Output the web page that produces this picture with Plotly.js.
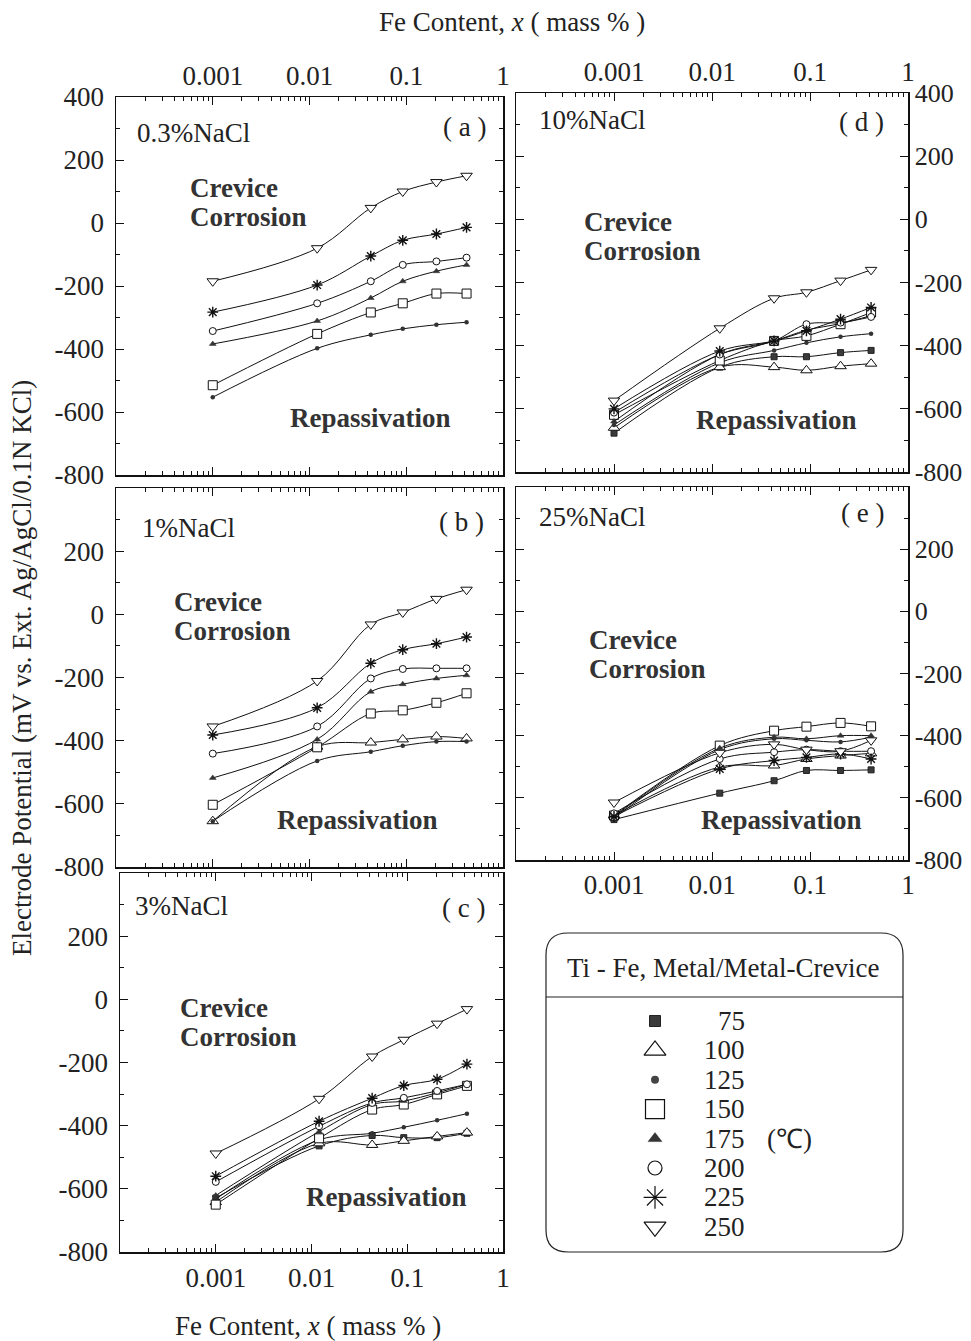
<!DOCTYPE html>
<html><head><meta charset="utf-8">
<script src="https://cdn.plot.ly/plotly-3.0.1.min.js"></script>
<style>body{margin:0;background:#fff}#chart{width:971px;height:1341px}</style>
</head><body><div id="chart"></div>
<script>
// ---------------- DATA ----------------
const feContent = [0.001, 0.012, 0.043, 0.092, 0.205, 0.42];   // Fe content, mass %
const temperatures = [75, 100, 125, 150, 175, 200, 225, 250];   // deg C
const xTickVals = [0.001, 0.01, 0.1, 1];
const xTickText = ['0.001', '0.01', '0.1', '1'];
const yTickVals = [-800, -600, -400, -200, 0, 200, 400];

// (a) 0.3% NaCl
const a250 = [-185, -80, 48, 100, 130, 150];
const a225 = [-283, -197, -105, -55, -35, -14];
const a200 = [-343, -255, -185, -133, -122, -110];
const a175 = [-384, -311, -238, -185, -153, -133];
const a150 = [-515, -352, -284, -255, -224, -224];
const a125 = [-553, -398, -355, -336, -323, -315];
// (b) 1% NaCl
const b250 = [-355, -211, -32, 6, 49, 78];
const b225 = [-382, -296, -155, -112, -93, -72];
const b200 = [-441, -355, -203, -173, -171, -171];
const b175 = [-518, -396, -245, -221, -203, -193];
const b150 = [-603, -421, -314, -304, -280, -250];
const b100 = [-655, -419, -406, -396, -387, -393];
const b125 = [-655, -464, -435, -416, -403, -403];
// (c) 3% NaCl
const c250 = [-488, -315, -181, -128, -77, -31];
const c225 = [-560, -386, -313, -273, -253, -205];
const c200 = [-578, -402, -328, -312, -290, -269];
const c175 = [-621, -419, -333, -322, -296, -269];
const c150 = [-650, -440, -349, -333, -301, -274];
const c125 = [-632, -445, -424, -405, -383, -362];
const c75  = [-629, -464, -431, -438, -438, -424];
const c100 = [-642, -456, -461, -448, -434, -422];
// (d) 10% NaCl
const d250 = [-574, -345, -250, -231, -194, -160];
const d225 = [-600, -417, -385, -353, -316, -279];
const d200 = [-612, -428, -385, -332, -327, -309];
const d150 = [-619, -447, -385, -369, -332, -295];
const d175 = [-640, -428, -385, -351, -330, -305];
const d125 = [-651, -454, -415, -391, -372, -362];
const d75  = [-677, -468, -435, -435, -422, -415];
const d100 = [-660, -468, -468, -478, -465, -457];
// (e) 25% NaCl
const e250 = [-615, -455, -428, -445, -450, -415];
const e175 = [-660, -440, -405, -410, -400, -400];
const e125 = [-665, -445, -410, -415, -420, -405];
const e150 = [-657, -432, -384, -371, -359, -370];
const e200 = [-650, -475, -453, -445, -450, -450];
const e225 = [-660, -507, -480, -470, -459, -475];
const e100 = [-657, -501, -496, -475, -464, -457];
const e75  = [-670, -585, -545, -512, -512, -510];

// ---------------- LAYOUT HELPERS ----------------
const W = 971, H = 1341;
const px = x => x / W;
const py = y => 1 - y / H;
const FONT = 'Liberation Serif, Times New Roman, serif';
const FS = 27;
const INK = '#222';

const markerStyle = {
  75:  {symbol: 'square', size: 6, color: '#3a3a3a', line: {color: '#222', width: 1}},
  100: {symbol: 'triangle-up', size: 10, color: 'white', line: {color: '#111', width: 1}},
  125: {symbol: 'circle', size: 4.5, color: '#333', line: {color: '#333', width: 0}},
  150: {symbol: 'square', size: 9, color: 'white', line: {color: '#111', width: 1}},
  175: {symbol: 'triangle-up', size: 6, color: '#333', line: {color: '#333', width: 0.5}},
  200: {symbol: 'circle', size: 7, color: 'white', line: {color: '#111', width: 1}},
  225: {symbol: 'asterisk-open', size: 9, color: '#111', line: {color: '#111', width: 1.4}},
  250: {symbol: 'triangle-down', size: 10, color: 'white', line: {color: '#111', width: 1}}
};
const legendStyle = {
  75:  {symbol: 'square', size: 11, color: '#3a3a3a', line: {color: '#222', width: 1}},
  100: {symbol: 'triangle-up', size: 19, color: 'white', line: {color: '#111', width: 1.2}},
  125: {symbol: 'circle', size: 8, color: '#444', line: {color: '#444', width: 0}},
  150: {symbol: 'square', size: 19, color: 'white', line: {color: '#111', width: 1.2}},
  175: {symbol: 'triangle-up', size: 12, color: '#333', line: {color: '#333', width: 0.5}},
  200: {symbol: 'circle', size: 14, color: 'white', line: {color: '#111', width: 1.2}},
  225: {symbol: 'asterisk-open', size: 19, color: '#111', line: {color: '#111', width: 1.2}},
  250: {symbol: 'triangle-down', size: 19, color: 'white', line: {color: '#111', width: 1.2}}
};

const panels = [
  {id: '', box: [116, 503, 97, 475], xside: 'top', xlabels: true, yside: 'left', ylabels400: true, xstand: 0,
   name: '0.3%NaCl', tag: '( a )', series: {125: a125, 150: a150, 175: a175, 200: a200, 225: a225, 250: a250},
   txt: {name: [135, 133], tag: [488, 127], crev: [188, 188], rep: [288, 418]}},
  {id: '2', box: [116, 503, 488, 867], xside: 'bottom', xlabels: false, yside: 'left', ylabels400: false, xstand: 0,
   name: '1%NaCl', tag: '( b )', series: {125: b125, 100: b100, 150: b150, 175: b175, 200: b200, 225: b225, 250: b250},
   txt: {name: [140, 528], tag: [486, 522], crev: [172, 602], rep: [275, 820]}},
  {id: '3', box: [120, 503, 873, 1252], xside: 'bottom', xlabels: true, yside: 'left', ylabels400: false, xstand: 1,
   name: '3%NaCl', tag: '( c )', series: {75: c75, 100: c100, 125: c125, 150: c150, 175: c175, 200: c200, 225: c225, 250: c250},
   txt: {name: [133, 906], tag: [487, 908], crev: [178, 1008], rep: [304, 1197]}},
  {id: '4', box: [516, 908, 93, 472], xside: 'top', xlabels: true, yside: 'right', ylabels400: true, xstand: 0,
   name: '10%NaCl', tag: '( d )', series: {75: d75, 100: d100, 125: d125, 175: d175, 150: d150, 200: d200, 225: d225, 250: d250},
   txt: {name: [537, 120], tag: [886, 122], crev: [582, 222], rep: [694, 420]}},
  {id: '5', box: [516, 908, 487, 860], xside: 'bottom', xlabels: true, yside: 'right', ylabels400: false, xstand: 0,
   name: '25%NaCl', tag: '( e )', series: {75: e75, 100: e100, 225: e225, 200: e200, 150: e150, 125: e125, 175: e175, 250: e250},
   txt: {name: [537, 517], tag: [886, 513], crev: [587, 640], rep: [699, 820]}}
];

const minorX = [];
for (let e = -4; e < 0; e++) for (let d = 2; d <= 9; d++) minorX.push(d * Math.pow(10, e));
const minorY = [-700, -500, -300, -100, 100, 300];

const traces = [];
const layout = {
  width: W, height: H, margin: {l: 0, r: 0, t: 0, b: 0},
  paper_bgcolor: 'white', plot_bgcolor: 'white', showlegend: false,
  font: {family: FONT, size: FS, color: INK},
  annotations: [], shapes: []
};

function ann(text, x, y, opt) {
  layout.annotations.push(Object.assign({
    text: text, x: px(x), y: py(y), xref: 'paper', yref: 'paper',
    xanchor: 'left', yanchor: 'middle', showarrow: false,
    font: {family: FONT, size: FS, color: INK}
  }, opt || {}));
}

panels.forEach(p => {
  const xa = 'x' + p.id, ya = 'y' + p.id;
  const [x0, x1, y0, y1] = p.box;
  const right = p.yside === 'right';
  layout['xaxis' + p.id] = {
    domain: [px(x0), px(x1)], anchor: ya, type: 'log', range: [-4, 0],
    side: p.xside, showline: true, linecolor: '#111', linewidth: 1.5, mirror: 'ticks',
    ticks: 'inside', ticklen: 8, tickwidth: 1, tickcolor: '#111',
    tickmode: 'array', tickvals: xTickVals, ticktext: xTickText,
    showticklabels: p.xlabels, tickfont: {family: FONT, size: FS, color: INK},
    ticklabelstandoff: p.xstand,
    minor: {tickmode: 'array', tickvals: minorX, ticks: 'inside', ticklen: 4, tickwidth: 1, tickcolor: '#111', showgrid: false},
    showgrid: false, zeroline: false, fixedrange: true
  };
  layout['yaxis' + p.id] = {
    domain: [py(y1), py(y0)], anchor: xa, range: [-800, 400],
    side: p.yside, showline: true, linecolor: '#111', linewidth: 1.5, mirror: 'ticks',
    ticks: 'inside', ticklen: 8, tickwidth: 1, tickcolor: '#111',
    tickmode: 'array', tickvals: yTickVals,
    ticktext: yTickVals.map(v => (v === 400 && !p.ylabels400) ? '' : String(v)),
    tickfont: {family: FONT, size: right ? 26 : FS, color: INK}, ticklabelstandoff: right ? 0 : 5,
    minor: {tickmode: 'array', tickvals: minorY, ticks: 'inside', ticklen: 4, tickwidth: 1, tickcolor: '#111', showgrid: false},
    showgrid: false, zeroline: false, fixedrange: true
  };
  Object.keys(p.series).forEach(t => {
    const st = markerStyle[t];
    traces.push({
      type: 'scatter', mode: 'lines+markers', x: feContent, y: p.series[t],
      xaxis: xa, yaxis: ya, name: t + ' °C',
      line: {color: '#111', width: 1, shape: 'spline', smoothing: 1},
      marker: {symbol: st.symbol, size: st.size, color: st.color, line: st.line},
      hoverinfo: 'x+y+name'
    });
  });
  ann(p.name, p.txt.name[0], p.txt.name[1]);
  ann(p.tag, p.txt.tag[0], p.txt.tag[1], {xanchor: 'right'});
  ann('<b>Crevice</b>', p.txt.crev[0], p.txt.crev[1], {font: {family: FONT, size: FS, color: '#333'}});
  ann('<b>Corrosion</b>', p.txt.crev[0], p.txt.crev[1] + 29, {font: {family: FONT, size: FS, color: '#333'}});
  ann('<b>Repassivation</b>', p.txt.rep[0], p.txt.rep[1], {font: {family: FONT, size: FS, color: '#333'}});
});

// axis titles
ann('Fe Content, <i>x</i> ( mass % )', 512, 22, {xanchor: 'center'});
ann('Fe Content, <i>x</i> ( mass % )', 308, 1326, {xanchor: 'center'});
ann('Electrode Potential (mV vs. Ext. Ag/AgCl/0.1N KCl)', 22, 668, {xanchor: 'center', textangle: -90});

// ---------------- LEGEND BOX ----------------
const LB = [546, 903, 933, 1252], R = 22;
const lx0 = px(LB[0]), lx1 = px(LB[1]), ly0 = py(LB[2]), ly1 = py(LB[3]);
const rx = R / W, ry = R / H;
layout.shapes.push({
  type: 'path', xref: 'paper', yref: 'paper', line: {color: '#222', width: 1.2},
  path: `M ${lx0 + rx} ${ly0} L ${lx1 - rx} ${ly0} Q ${lx1} ${ly0} ${lx1} ${ly0 - ry} ` +
        `L ${lx1} ${ly1 + ry} Q ${lx1} ${ly1} ${lx1 - rx} ${ly1} L ${lx0 + rx} ${ly1} ` +
        `Q ${lx0} ${ly1} ${lx0} ${ly1 + ry} L ${lx0} ${ly0 - ry} Q ${lx0} ${ly0} ${lx0 + rx} ${ly0} Z`
});
layout.shapes.push({type: 'line', xref: 'paper', yref: 'paper', x0: lx0, x1: lx1, y0: py(997), y1: py(997), line: {color: '#222', width: 1.2}});
ann('Ti - Fe, Metal/Metal-Crevice', 723, 968, {xanchor: 'center'});

// legend axis: x in pixel-like units, y = row index
const rowTop = 1021, rowStep = 29.4;
layout.xaxis6 = {domain: [lx0, lx1], range: [LB[0], LB[1]], visible: false, fixedrange: true, anchor: 'y6'};
layout.yaxis6 = {domain: [ly1, ly0], range: [(LB[3] - rowTop) / rowStep, (LB[2] - rowTop) / rowStep], visible: false, fixedrange: true, anchor: 'x6'};
temperatures.forEach((t, i) => {
  const st = legendStyle[t];
  traces.push({
    type: 'scatter', mode: 'markers', x: [655], y: [i], xaxis: 'x6', yaxis: 'y6',
    marker: {symbol: st.symbol, size: st.size, color: st.color, line: st.line}, hoverinfo: 'skip'
  });
  layout.annotations.push({
    text: String(t), x: 747, y: i, xref: 'x6', yref: 'y6', xanchor: 'right', yanchor: 'middle',
    showarrow: false, font: {family: FONT, size: FS, color: INK}
  });
});
layout.annotations.push({
  text: '(℃)', x: 765, y: temperatures.indexOf(175), xref: 'x6', yref: 'y6', xanchor: 'left', yanchor: 'middle',
  showarrow: false, font: {family: FONT, size: FS, color: INK}
});

Plotly.newPlot('chart', traces, layout, {displayModeBar: false, staticPlot: true});
</script>
</body></html>
